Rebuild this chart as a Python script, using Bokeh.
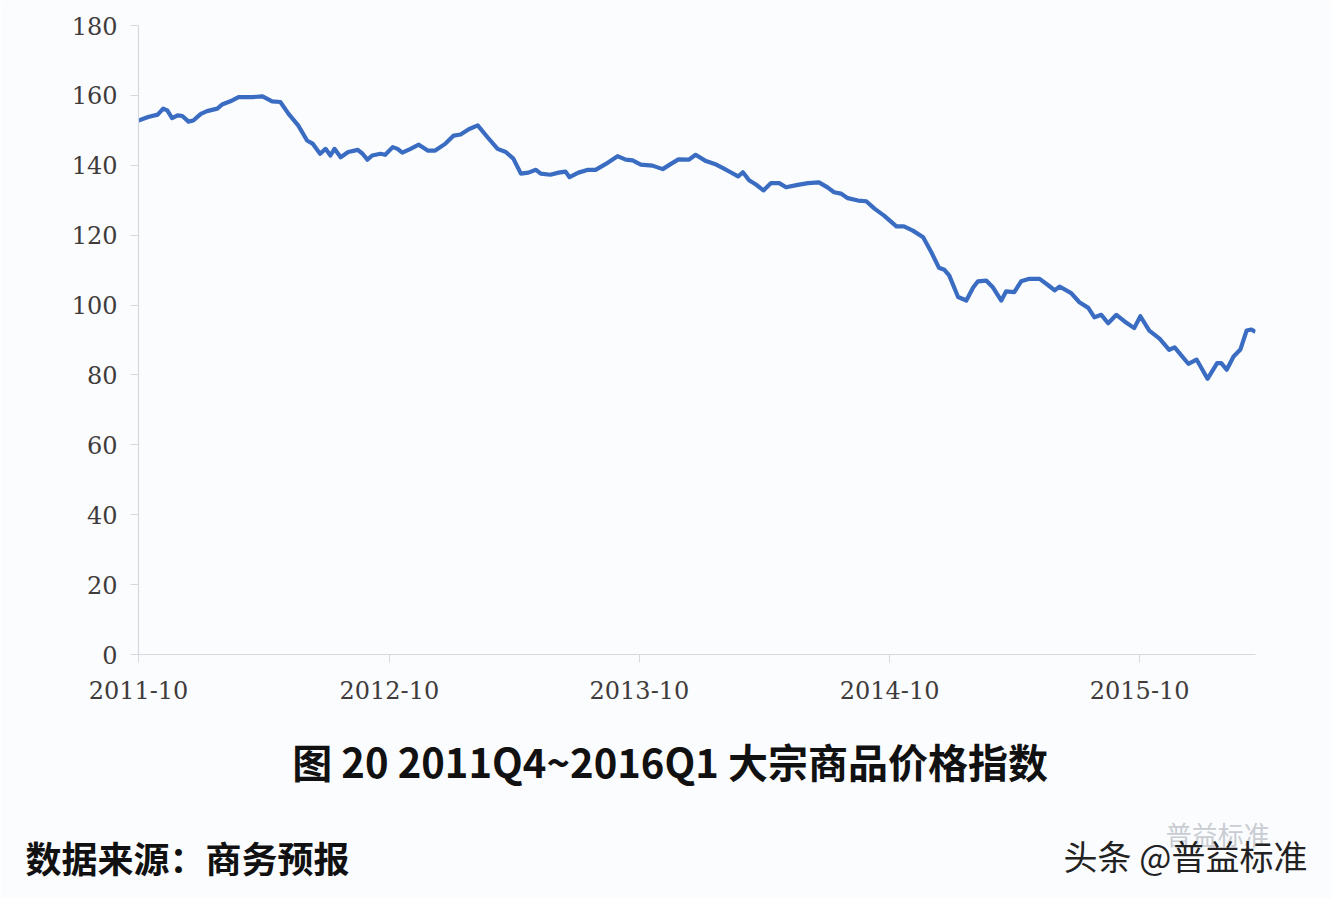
import pandas as pd
from bokeh.plotting import figure
from bokeh.models import FixedTicker, DatetimeTickFormatter, Label, ColumnDataSource
from bokeh.embed import file_html
from bokeh.resources import INLINE

# ---- data ----
dates = [
    "2011-10-01", "2011-10-15", "2011-10-29", "2011-11-06", "2011-11-12", "2011-11-19", "2011-11-27",
    "2011-12-04", "2011-12-13", "2011-12-20", "2011-12-31", "2012-01-09", "2012-01-24", "2012-01-31",
    "2012-02-12", "2012-02-24", "2012-03-15", "2012-03-30", "2012-04-13", "2012-04-25", "2012-05-07",
    "2012-05-21", "2012-06-03", "2012-06-11", "2012-06-22", "2012-06-30", "2012-07-07", "2012-07-13",
    "2012-07-22", "2012-08-02", "2012-08-16", "2012-08-23", "2012-08-30", "2012-09-06", "2012-09-18",
    "2012-09-25", "2012-10-06", "2012-10-13", "2012-10-20", "2012-11-01", "2012-11-13", "2012-11-26",
    "2012-12-07", "2012-12-22", "2013-01-03", "2013-01-13", "2013-01-25", "2013-02-07", "2013-02-21",
    "2013-03-08", "2013-03-20", "2013-03-31", "2013-04-11", "2013-04-22", "2013-05-03", "2013-05-10",
    "2013-05-24", "2013-06-05", "2013-06-15", "2013-06-21", "2013-07-04", "2013-07-18", "2013-07-29",
    "2013-08-13", "2013-08-30", "2013-09-11", "2013-09-21", "2013-10-03", "2013-10-20", "2013-11-04",
    "2013-11-16", "2013-11-27", "2013-12-12", "2013-12-22", "2014-01-06", "2014-01-21", "2014-01-31",
    "2014-02-11", "2014-02-22", "2014-03-01", "2014-03-10", "2014-03-20", "2014-03-31", "2014-04-11",
    "2014-04-23", "2014-05-03", "2014-05-20", "2014-06-04", "2014-06-20", "2014-07-03", "2014-07-12",
    "2014-07-22", "2014-08-01", "2014-08-16", "2014-08-28", "2014-09-09", "2014-09-23", "2014-10-11",
    "2014-10-22", "2014-11-04", "2014-11-19", "2014-12-01", "2014-12-12", "2014-12-20", "2014-12-27",
    "2015-01-09", "2015-01-21", "2015-01-31", "2015-02-07", "2015-02-19", "2015-03-01", "2015-03-13",
    "2015-03-20", "2015-04-01", "2015-04-11", "2015-04-23", "2015-05-08", "2015-05-21", "2015-05-30",
    "2015-06-06", "2015-06-23", "2015-07-05", "2015-07-18", "2015-07-27", "2015-08-06", "2015-08-16",
    "2015-08-28", "2015-09-09", "2015-09-23", "2015-10-02", "2015-10-15", "2015-10-30", "2015-11-13",
    "2015-11-21", "2015-12-11", "2015-12-23", "2016-01-08", "2016-01-22", "2016-01-28", "2016-02-05",
    "2016-02-15", "2016-02-25", "2016-03-05", "2016-03-12", "2016-03-18",
]
index_values = [
    152.8, 153.8, 154.5, 156.2, 155.7, 153.5, 154.3,
    154.1, 152.5, 152.8, 154.7, 155.5, 156.2, 157.4,
    158.3, 159.5, 159.5, 159.7, 158.3, 158.1, 154.7,
    151.4, 147.1, 146.2, 143.3, 144.7, 142.8, 144.7,
    142.3, 143.8, 144.4, 143.3, 141.6, 142.8, 143.3,
    143.0, 145.2, 144.7, 143.6, 144.7, 145.9, 144.2,
    144.2, 146.2, 148.5, 148.8, 150.3, 151.4, 148.1,
    144.7, 143.8, 141.9, 137.6, 137.9, 138.7, 137.6,
    137.3, 137.9, 138.2, 136.6, 137.9, 138.7, 138.7,
    140.4, 142.6, 141.6, 141.4, 140.2, 139.9, 138.9,
    140.4, 141.7, 141.6, 143.0, 141.2, 140.2, 139.2,
    138.0, 136.8, 138.0, 135.7, 134.5, 132.8, 134.9,
    134.9, 133.7, 134.4, 134.9, 135.1, 133.6, 132.3,
    131.9, 130.6, 129.9, 129.7, 127.6, 125.6, 122.5,
    122.5, 121.3, 119.4, 115.1, 110.7, 110.1, 108.5,
    102.3, 101.3, 105.0, 106.8, 107.0, 105.0, 101.3,
    103.9, 103.7, 106.8, 107.5, 107.5, 105.6, 104.2,
    105.3, 103.4, 100.8, 99.2, 96.5, 97.2, 94.8,
    97.2, 95.3, 93.4, 96.8, 92.7, 90.4, 87.2,
    87.9, 83.2, 84.4, 78.9, 83.4, 83.4, 81.5,
    85.3, 87.3, 92.7, 93.0, 92.3,
]
x_tick_labels = ["2011-10", "2012-10", "2013-10", "2014-10", "2015-10"]
y_ticks = [0, 20, 40, 60, 80, 100, 120, 140, 160, 180]
title_text = "图 20   2011Q4~2016Q1 大宗商品价格指数"
source_text = "数据来源：商务预报"
watermark_text = "头条 @普益标准"
watermark_ghost = "普益标准"

# ---- main chart ----
dt = pd.to_datetime(dates)
src = ColumnDataSource(data=dict(x=dt, y=index_values))

x_start = pd.Timestamp(x_tick_labels[0] + "-01")
x_end = dt[-1]

BG = "#fbfcfe"
W, H = 1332, 898
p = figure(
    width=W, height=H,
    x_axis_type="datetime",
    x_range=(x_start, x_end), y_range=(0, 180),
    output_backend="svg", toolbar_location=None,
    min_border_left=138, min_border_right=77,
    min_border_top=25, min_border_bottom=244,
    background_fill_color=BG, border_fill_color=BG,
)
p.outline_line_color = None
p.grid.visible = False

p.line("x", "y", source=src, line_color="#3a6cc2", line_width=4.2, line_join="round")

tick_ms = [pd.Timestamp(t + "-01").value / 1e6 for t in x_tick_labels]
p.xaxis.ticker = FixedTicker(ticks=tick_ms)
fmt = "%Y-%m"
p.xaxis.formatter = DatetimeTickFormatter(
    years=fmt, months=fmt, days=fmt, hours=fmt, minutes=fmt,
    seconds=fmt, milliseconds=fmt, microseconds=fmt, hourmin=fmt, minsec=fmt,
)
p.yaxis.ticker = FixedTicker(ticks=y_ticks)

for ax in (p.xaxis, p.yaxis):
    ax.axis_line_color = "#d6d9de"
    ax.axis_line_width = 1.2
    ax.major_tick_line_color = "#d6d9de"
    ax.major_tick_out = 8
    ax.major_tick_in = 0
    ax.minor_tick_line_color = None
    ax.major_label_text_font = "DejaVu Serif"
    ax.major_label_text_font_size = "24px"
    ax.major_label_text_color = "#3f3b3b"
p.yaxis.major_label_standoff = 13
p.xaxis.major_label_standoff = 18

# ---- caption, source and watermark below the chart (side panel => not clipped) ----
def below_label(x, y, text, **kw):
    p.add_layout(Label(x=pd.Timestamp(x), y=y, text=text,
                       text_baseline="middle", text_font="Noto Sans CJK SC", **kw), "below")

below_label("2013-11-28", -30.4, title_text, text_align="center",
            text_font_style="bold", text_font_size="40px", text_color="#111111")
below_label("2011-04-19", -58.0, source_text, text_align="left",
            text_font_style="bold", text_font_size="36px", text_color="#111111")
below_label("2015-11-08", -51.2, watermark_ghost, text_align="left",
            text_font_size="26px", text_color="#c9ccd2")
below_label("2015-06-12", -57.5, watermark_text, text_align="left",
            text_font_size="34px", text_color="#222222")

open("out.html", "w").write(file_html(p, INLINE))
